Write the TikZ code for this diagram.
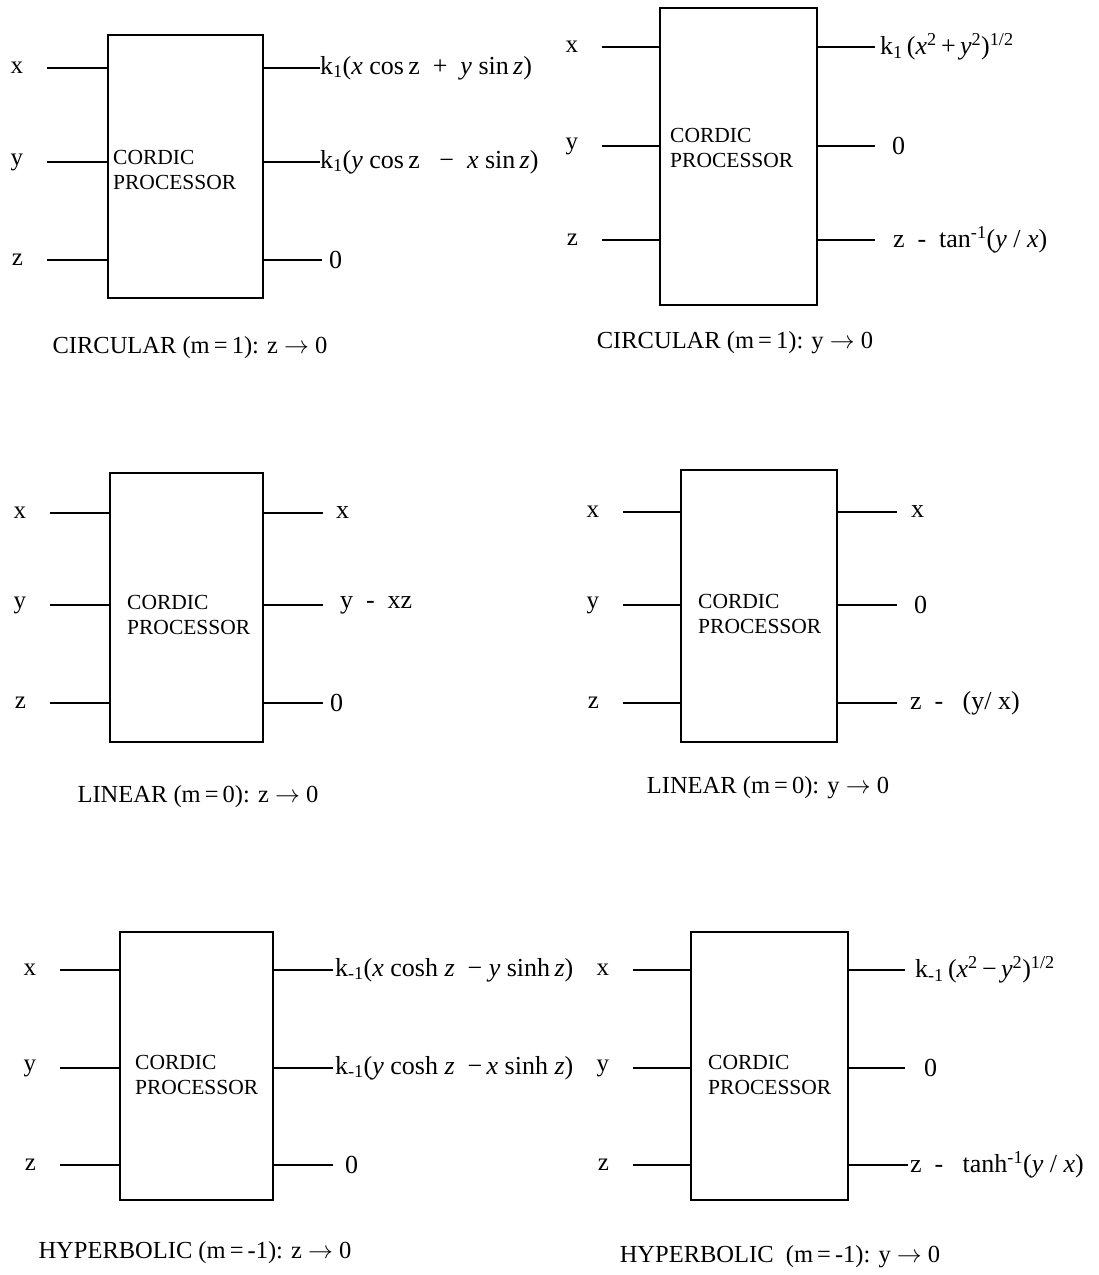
\documentclass[tikz,border=0pt]{standalone}
\usepackage{fontspec}
\setmainfont{Liberation Serif}
\usetikzlibrary{shapes}

\begin{document}
\begin{tikzpicture}[x=1pt,y=-1pt]
  \tikzstyle{box} = [rectangle, draw, line width=2.4pt, inner sep=0pt]
  \tikzstyle{boxtext} = [anchor=west, align=left, inner sep=0pt, font=\fontsize{21.5}{25}\selectfont]
  \tikzstyle{inlab} = [anchor=east, inner sep=0pt, outer xsep=24pt, font=\fontsize{25}{28}\selectfont]
  \tikzstyle{outlab} = [anchor=west, inner sep=0pt, outer xsep=0pt, font=\fontsize{26}{30}\selectfont]
  \tikzstyle{caption} = [inner sep=0pt, font=\fontsize{24.5}{28}\selectfont]
  \tikzstyle{wire} = [line width=2.4pt]
  \useasboundingbox (0,0) rectangle (1099,1275);

  % circular, z -> 0
  \node (box1) [box, minimum width=155pt, minimum height=263pt] at (185.5,166.5) {};
  \node (txt1) [boxtext] at (113,170) {CORDIC\\PROCESSOR};
  \node (x1) [inlab] at (47,68) {x};
  \node (y1) [inlab] at (47,162) {y};
  \node (z1) [inlab] at (47,260) {z};
  \node (xo1) [outlab] at (320,68) {k\textsubscript{1}(\textit{x} cos\,z\ \ +\ \ \textit{y} sin\,\textit{z})};
  \node (yo1) [outlab] at (320,162) {k\textsubscript{1}(\textit{y} cos\,z\ \ \ −\ \ \textit{x} sin\,\textit{z})};
  \node (zo1) [outlab, outer xsep=7pt] at (322,260) {0};
  \node (cap1) [caption] at (190,348) {CIRCULAR (m\,=\,1): z $\rightarrow$ 0};
  \draw [wire] (x1)--(x1 -| box1.west);
  \draw [wire] (y1)--(y1 -| box1.west);
  \draw [wire] (z1)--(z1 -| box1.west);
  \draw [wire] (box1.east |- xo1)--(xo1);
  \draw [wire] (box1.east |- yo1)--(yo1);
  \draw [wire] (box1.east |- zo1)--(zo1);

  % circular, y -> 0
  \node (box2) [box, minimum width=157pt, minimum height=297pt] at (738.5,156.5) {};
  \node (txt2) [boxtext] at (670,148) {CORDIC\\PROCESSOR};
  \node (x2) [inlab] at (602,47) {x};
  \node (y2) [inlab] at (602,146) {y};
  \node (z2) [inlab] at (602,240) {z};
  \node (xo2) [outlab, outer xsep=5pt] at (875,47) {k\textsubscript{1}\,(\textit{x}\textsuperscript{2}\,+\,\textit{y}\textsuperscript{2})\textsuperscript{1/2}};
  \node (yo2) [outlab, outer xsep=17pt] at (875,146) {0};
  \node (zo2) [outlab, outer xsep=18pt] at (875,240) {z\ \ -\ \ tan\textsuperscript{-1}(\textit{y} / \textit{x})};
  \node (cap2) [caption] at (735,343) {CIRCULAR (m\,=\,1): y $\rightarrow$ 0};
  \draw [wire] (x2)--(x2 -| box2.west);
  \draw [wire] (y2)--(y2 -| box2.west);
  \draw [wire] (z2)--(z2 -| box2.west);
  \draw [wire] (box2.east |- xo2)--(xo2);
  \draw [wire] (box2.east |- yo2)--(yo2);
  \draw [wire] (box2.east |- zo2)--(zo2);

  % linear, z -> 0
  \node (box3) [box, minimum width=153pt, minimum height=269pt] at (186.5,607.5) {};
  \node (txt3) [boxtext] at (127,615) {CORDIC\\PROCESSOR};
  \node (x3) [inlab] at (50,513) {x};
  \node (y3) [inlab] at (50,605) {y};
  \node (z3) [inlab] at (50,703) {z};
  \node (xo3) [outlab, outer xsep=13pt] at (323,513) {x};
  \node (yo3) [outlab, outer xsep=17pt] at (323,605) {y\ \ -\ \ xz};
  \node (zo3) [outlab, outer xsep=7pt] at (323,703) {0};
  \node (cap3) [caption] at (198,797) {LINEAR (m\,=\,0): z $\rightarrow$ 0};
  \draw [wire] (x3)--(x3 -| box3.west);
  \draw [wire] (y3)--(y3 -| box3.west);
  \draw [wire] (z3)--(z3 -| box3.west);
  \draw [wire] (box3.east |- xo3)--(xo3);
  \draw [wire] (box3.east |- yo3)--(yo3);
  \draw [wire] (box3.east |- zo3)--(zo3);

  % linear, y -> 0
  \node (box4) [box, minimum width=156pt, minimum height=272pt] at (759,606) {};
  \node (txt4) [boxtext] at (698,613.5) {CORDIC\\PROCESSOR};
  \node (x4) [inlab] at (623,512) {x};
  \node (y4) [inlab] at (623,605) {y};
  \node (z4) [inlab] at (623,703) {z};
  \node (xo4) [outlab, outer xsep=14pt] at (897,512) {x};
  \node (yo4) [outlab, outer xsep=17pt] at (897,605) {0};
  \node (zo4) [outlab, outer xsep=13pt] at (897,703) {z\ \ -\ \ \ (y/ x)};
  \node (cap4) [caption] at (768,788) {LINEAR (m\,=\,0): y $\rightarrow$ 0};
  \draw [wire] (x4)--(x4 -| box4.west);
  \draw [wire] (y4)--(y4 -| box4.west);
  \draw [wire] (z4)--(z4 -| box4.west);
  \draw [wire] (box4.east |- xo4)--(xo4);
  \draw [wire] (box4.east |- yo4)--(yo4);
  \draw [wire] (box4.east |- zo4)--(zo4);

  % hyperbolic, z -> 0
  \node (box5) [box, minimum width=153pt, minimum height=268pt] at (196.5,1066) {};
  \node (txt5) [boxtext] at (135,1075) {CORDIC\\PROCESSOR};
  \node (x5) [inlab] at (60,970) {x};
  \node (y5) [inlab] at (60,1068) {y};
  \node (z5) [inlab] at (60,1165) {z};
  \node (xo5) [outlab, outer xsep=2pt] at (333,970) {k\textsubscript{-1}(\textit{x} cosh \textit{z}\ \ −\ \textit{y} sinh\,\textit{z})};
  \node (yo5) [outlab, outer xsep=2pt] at (333,1068) {k\textsubscript{-1}(\textit{y} cosh \textit{z}\ \ −\,\textit{x} sinh \textit{z})};
  \node (zo5) [outlab, outer xsep=12pt] at (333,1165) {0};
  \node (cap5) [caption] at (195,1253) {HYPERBOLIC (m\,=\,-1): z $\rightarrow$ 0};
  \draw [wire] (x5)--(x5 -| box5.west);
  \draw [wire] (y5)--(y5 -| box5.west);
  \draw [wire] (z5)--(z5 -| box5.west);
  \draw [wire] (box5.east |- xo5)--(xo5);
  \draw [wire] (box5.east |- yo5)--(yo5);
  \draw [wire] (box5.east |- zo5)--(zo5);

  % hyperbolic, y -> 0
  \node (box6) [box, minimum width=157pt, minimum height=268pt] at (769.5,1066) {};
  \node (txt6) [boxtext] at (708,1075) {CORDIC\\PROCESSOR};
  \node (x6) [inlab] at (633,970) {x};
  \node (y6) [inlab] at (633,1068) {y};
  \node (z6) [inlab] at (633,1165) {z};
  \node (xo6) [outlab, outer xsep=10pt] at (905,970) {k\textsubscript{-1}\,(\textit{x}\textsuperscript{2}\,−\,\textit{y}\textsuperscript{2})\textsuperscript{1/2}};
  \node (yo6) [outlab, outer xsep=19pt] at (905,1068) {0};
  \node (zo6) [outlab, outer xsep=2pt] at (908,1165) {z\ \ -\ \ \ tanh\textsuperscript{-1}(\textit{y} / \textit{x})};
  \node (cap6) [caption] at (780,1257) {HYPERBOLIC\ \ (m\,=\,-1): y $\rightarrow$ 0};
  \draw [wire] (x6)--(x6 -| box6.west);
  \draw [wire] (y6)--(y6 -| box6.west);
  \draw [wire] (z6)--(z6 -| box6.west);
  \draw [wire] (box6.east |- xo6)--(xo6);
  \draw [wire] (box6.east |- yo6)--(yo6);
  \draw [wire] (box6.east |- zo6)--(zo6);
\end{tikzpicture}
\end{document}
